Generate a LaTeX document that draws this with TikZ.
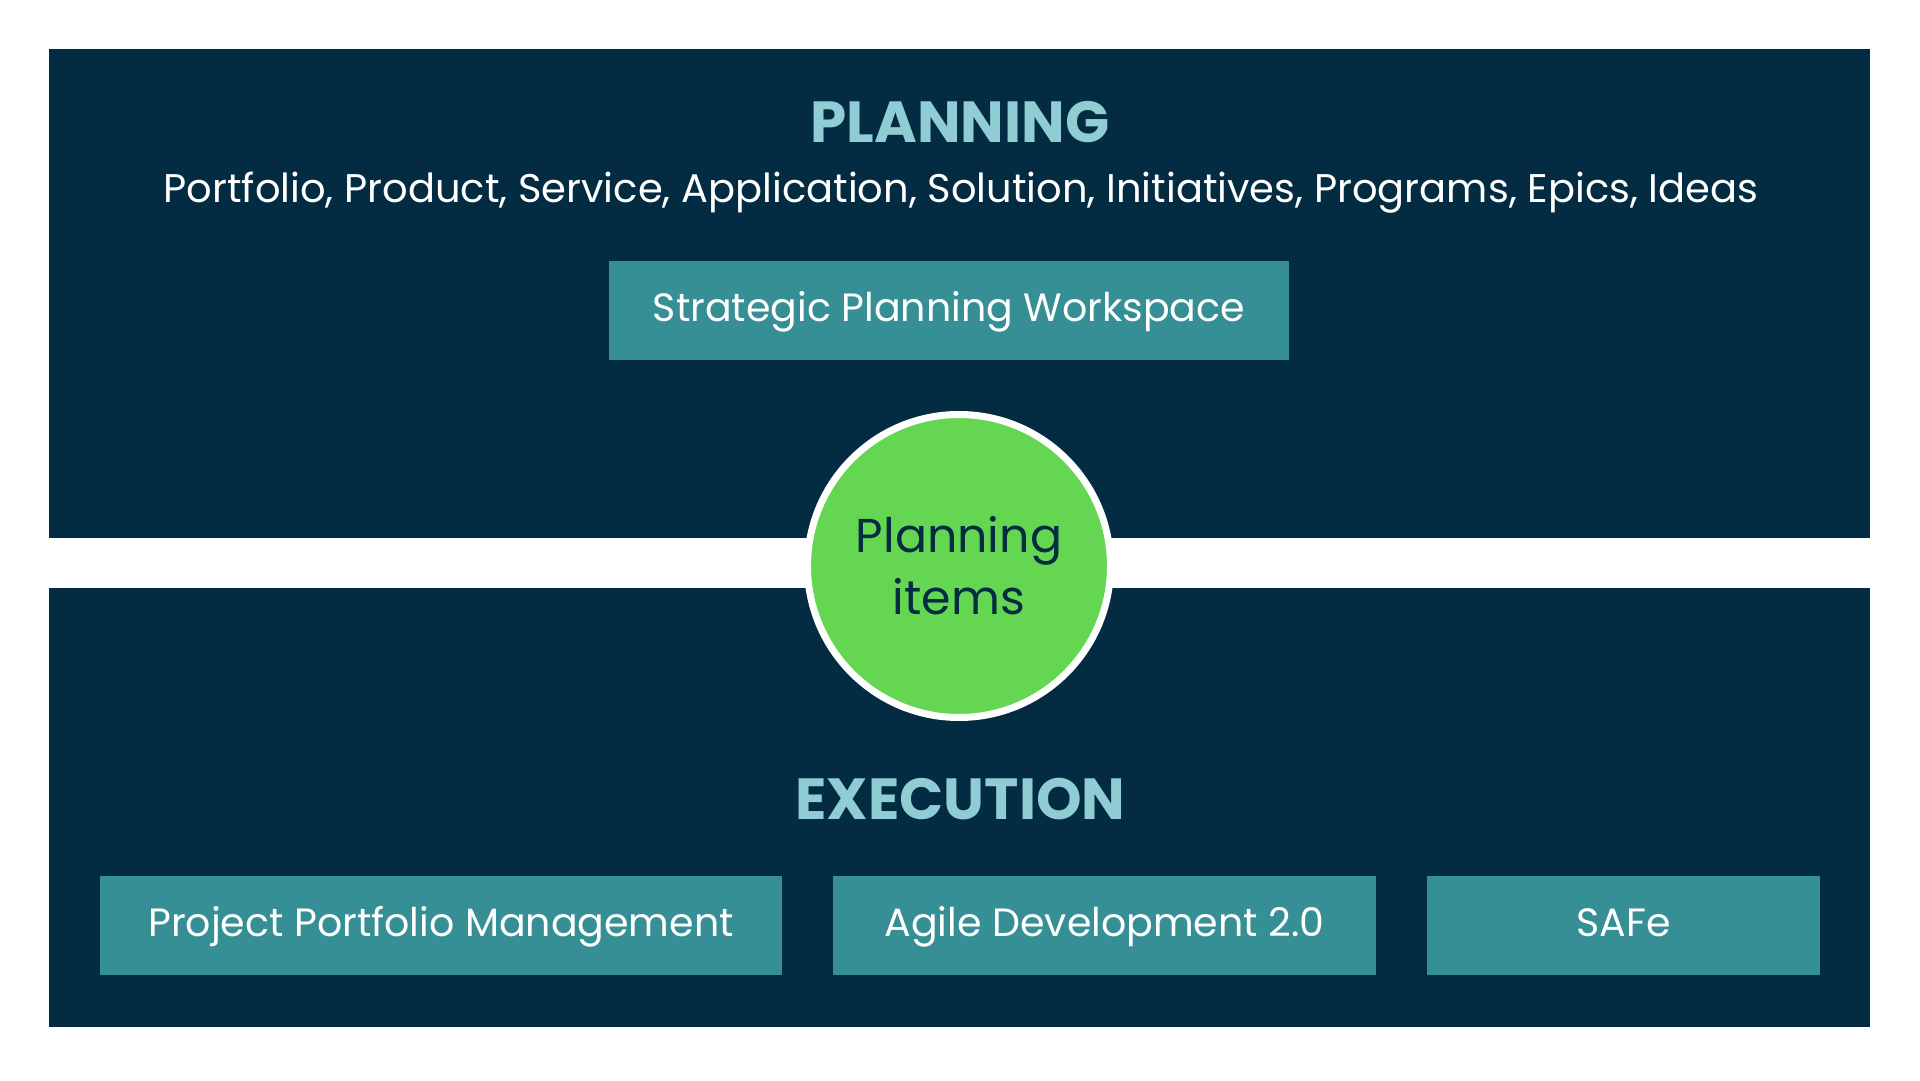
\documentclass[tikz,border=0pt]{standalone}
\usepackage{fontspec}
\setmainfont{Poppins}
\usetikzlibrary{positioning}
\definecolor{navy}{HTML}{032C42}
\definecolor{tealbox}{HTML}{378F96}
\definecolor{lightteal}{HTML}{8FCCD3}
\definecolor{itemgreen}{HTML}{64D651}
\tikzset{
    %Define style for the two bands
    band/.style={
           rectangle,
           fill=navy,
           inner sep=0pt, outer sep=0pt,
           minimum width=1821pt},
    %Define style for boxes
    tool/.style={
           rectangle,
           fill=tealbox,
           inner sep=0pt, outer sep=0pt,
           minimum height=99pt,
           text=white,
           text height=28pt, text depth=6pt,
           font=\fontsize{39.5}{46}\selectfont},
    heading/.style={
           text=lightteal,
           inner sep=0pt,
           anchor=base,
           font=\bfseries\fontsize{58}{68}\selectfont},
    hub/.style={
           circle,
           fill=itemgreen,
           draw=white, line width=7pt,
           minimum size=303pt,
           inner sep=0pt,
           text=navy,
           align=center,
           font=\fontsize{47.5}{62}\selectfont}
}
\begin{document}
\begin{tikzpicture}[x=1pt,y=1pt,node distance=51pt]
\fill[white] (0,0) rectangle (1920,1080);
\useasboundingbox (0,0) rectangle (1920,1080);
\node[band, minimum height=489pt](plan) at (959.5,786.5){};
\node[band, minimum height=439pt](exec) at (959.5,272.5){};
\node[heading](plantitle) at (960,937){PLANNING};
\node[text=white, inner sep=0pt, anchor=base, font=\fontsize{40}{46}\selectfont](levels) at (961,877){Portfolio, Product, Service, Application, Solution, Initiatives, Programs, Epics, Ideas};
\node[tool, minimum width=680pt](spw) at (949,769.5){Strategic Planning Workspace};
\node[hub](items) at (959,514){Planning\\items};
\node[heading](exectitle) at (960.5,261){EXECUTION};
\node[tool, minimum width=682pt](ppm) at (441,154.5){Project Portfolio Management};
\node[tool, minimum width=543pt, right=of ppm](agile){Agile Development 2.0};
\node[tool, minimum width=393pt, right=of agile](safe){SAFe};
\end{tikzpicture}
\end{document}
